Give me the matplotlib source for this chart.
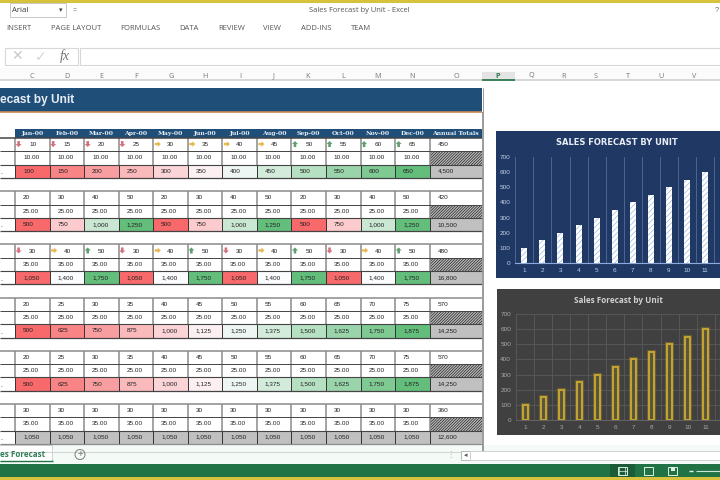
import matplotlib
matplotlib.use("Agg")
import matplotlib.pyplot as plt
from matplotlib.colors import LinearSegmentedColormap
from matplotlib.patches import Rectangle, Polygon, Circle
import numpy as np

plt.rcParams["font.family"] = ["Liberation Sans", "DejaVu Sans"]
plt.rcParams["hatch.linewidth"] = 0.5

months = ["Jan-00", "Feb-00", "Mar-00", "Apr-00", "May-00", "Jun-00",
          "Jul-00", "Aug-00", "Sep-00", "Oct-00", "Nov-00", "Dec-00"]

units_1 = [10, 15, 20, 25, 30, 35, 40, 45, 50, 55, 60, 65]
units_2 = [20, 30, 40, 50, 20, 30, 40, 50, 20, 30, 40, 50]
units_3 = [30, 40, 50, 30, 40, 50, 30, 40, 50, 30, 40, 50]
units_4 = [20, 25, 30, 35, 40, 45, 50, 55, 60, 65, 70, 75]
units_5 = [20, 25, 30, 35, 40, 45, 50, 55, 60, 65, 70, 75]
units_6 = [30, 30, 30, 30, 30, 30, 30, 30, 30, 30, 30, 30]
prices = [10, 25, 35, 25, 25, 35]
all_units = [units_1, units_2, units_3, units_4, units_5, units_6]
# arrows: d = down, r = right, u = up, "" = block without icons
arrows_1 = "ddddrrrruuuu"
arrows_3 = "drudrudrudru"
all_arrows = [arrows_1, "", arrows_3, "", "", ""]

chart_units = [1, 2, 3, 4, 5, 6, 7, 8, 9, 10, 11, 12]
chart_sales = [100, 150, 200, 250, 300, 350, 400, 450, 500, 550, 600, 650]
y_ticks = [0, 100, 200, 300, 400, 500, 600, 700]

ribbon_tabs = [("INSERT", 6), ("PAGE LAYOUT", 51), ("FORMULAS", 120), ("DATA", 179),
               ("REVIEW", 218), ("VIEW", 263), ("ADD-INS", 301), ("TEAM", 351)]
col_letters = [("C", 32), ("D", 67), ("E", 101), ("F", 136), ("G", 171), ("H", 205),
               ("I", 240), ("J", 274), ("K", 308), ("L", 343), ("M", 378), ("N", 412),
               ("O", 456), ("P", 498), ("Q", 531), ("R", 564), ("S", 596), ("T", 628),
               ("U", 661), ("V", 694)]

W, H = 720, 480
NAVY = "#1f4e79"
GREEN = "#217346"
GOLD = "#d8c23c"
scale = LinearSegmentedColormap.from_list("excel3", ["#f8696b", "#fcfcff", "#63be7b"])

fig = plt.figure(figsize=(7.2, 4.8), dpi=100, facecolor="white")
ax = fig.add_axes([0, 0, 1, 1])
ax.set_xlim(0, W)
ax.set_ylim(H, 0)
ax.axis("off")


def box(x0, y0, x1, y1, fc="none", ec="none", lw=0, z=1, **kw):
    ax.add_patch(Rectangle((x0, y0), x1 - x0, y1 - y0, fc=fc, ec=ec, lw=lw, zorder=z, **kw))


def hline(x0, x1, y, c, lw=0.8, z=3):
    ax.plot([x0, x1], [y, y], color=c, lw=lw, zorder=z, solid_capstyle="butt")


def vline(x, y0, y1, c, lw=0.8, z=3):
    ax.plot([x, x], [y0, y1], color=c, lw=lw, zorder=z, solid_capstyle="butt")


# ---- window chrome ----
box(0, 0, W, 2.5, fc=GOLD)
box(10, 3, 66, 17, ec="#c8c8c8", lw=0.7)
ax.text(12, 10.5, "Arial", fontsize=5.6, color="#333333", va="center", family="Open Sans")
ax.text(61, 10, "▾", fontsize=5, color="#444444", va="center", ha="center", family="DejaVu Sans")
ax.text(75, 11, "=", fontsize=5, color="#777777", va="center", ha="center")
ax.text(359, 11, "Sales Forecast by Unit - Excel", fontsize=5.4, color="#555555",
        va="center", ha="center", family="Open Sans")
ax.text(715, 11, "?", fontsize=5.5, color="#666666", va="center", ha="left")
for name, x in ribbon_tabs:
    ax.text(x, 28, name, fontsize=5.5, color="#555555", va="center", family="Open Sans")

# formula bar
box(5, 48, 78, 64.5, ec="#d8d8d8", lw=0.8)
box(80, 48, W + 5, 64.5, ec="#d8d8d8", lw=0.8)
ax.text(17, 56, "✕", fontsize=10, color="#c8c8c8", va="center", ha="center", family="DejaVu Sans")
ax.text(41, 57, "✓", fontsize=10, color="#d4d4d4", va="center", ha="center", family="DejaVu Sans")
ax.text(65, 56, "fx", fontsize=10, color="#777777", va="center", ha="center",
        family="Liberation Serif", style="italic")

# column headings
box(0, 68, W, 80, fc="#fbfbfb")
hline(0, W, 80.3, "#d0d0d0", lw=1.2)
box(482, 72, 515, 80, fc="#e4e4e4")
hline(482, 515, 80, GREEN, lw=1.2, z=4)
for name, x in col_letters:
    active = name == "P"
    ax.text(x, 76, name, fontsize=5.2, va="center", ha="center", family="Open Sans",
            color="#2a7a50" if active else "#777777", fontweight="bold" if active else "normal")

# banner above the table, its left part is scrolled out of the window
box(0, 88, 482, 112, fc=NAVY)
hline(0, 482, 112.4, "#c98a55", lw=1.2)
ax.text(0.5, 100, "ecast by Unit", fontsize=8.6, fontweight="bold", color="#e8eef4",
        va="center", ha="left")

# ---- table ----
col_w = 34.55
col_edges = [15 + i * col_w for i in range(13)] + [482]
row_h = 13.3
top = 138
vgray = "#8a8a8a"
dark = "#444444"

box(15, 129, 482, top, fc=NAVY)
for i, m in enumerate(months + ["Annual Totals"]):
    ax.text((col_edges[i] + col_edges[i + 1]) / 2, 133.6, m, fontsize=4.4, fontweight="bold",
            color="#e8eef4", va="center", ha="center", family="DejaVu Serif")

for b, units in enumerate(all_units):
    y0 = top + b * 4 * row_h
    y_u, y_p, y_r, y_e = y0, y0 + row_h, y0 + 2 * row_h, y0 + 3 * row_h
    price = prices[b]
    revenue = [u * price for u in units]
    lo, mid, hi = min(revenue), np.percentile(revenue, 50), max(revenue)
    arrow_set = all_arrows[b]

    for i in range(13):
        x0, x1 = col_edges[i], col_edges[i + 1]
        if i == 12:
            total_u, total_r = sum(units), sum(revenue)
            ax.text(x0 + 8, (y_u + y_p) / 2, f"{total_u}", fontsize=4.6, color="#222222", va="center")
            ax.add_patch(Rectangle((x0, y_p), x1 - x0, row_h, fc="#bbbbbb", ec="#222222",
                                   hatch="////////////", lw=0, zorder=2))
            box(x0, y_r, x1, y_e, fc="#c0c0c0", z=2)
            ax.text(x0 + 8, (y_r + y_e) / 2, f"{total_r:,}", fontsize=4.6, color="#222222", va="center")
            continue
        # revenue cell, three colour scale like the sheet
        if hi == lo:
            fc = "#c0c0c0"
        else:
            v = revenue[i]
            t = 0.5 * (v - lo) / (mid - lo) if v <= mid else 0.5 + 0.5 * (v - mid) / (hi - mid)
            fc = scale(t)
        box(x0, y_r, x1, y_e, fc=fc, z=2)
        ax.text(x0 + 8, (y_r + y_e) / 2, f"{revenue[i]:,}", fontsize=4.6, color="#222222", va="center")
        ax.text(x0 + 8, (y_p + y_r) / 2, f"{price:.2f}", fontsize=4.6, color="#222222", va="center")
        # units cell with optional icon
        cy = (y_u + y_p) / 2
        if arrow_set:
            ax.text(x0 + 14, cy, f"{units[i]}", fontsize=4.6, color="#222222", va="center")
            kind = arrow_set[i]
            ax_, ay = x0 + 3.6, cy - 0.6
            if kind == "d":
                pts = [(-1.3, -3), (1.3, -3), (1.3, 0), (3, 0), (0, 3), (-3, 0), (-1.3, 0)]
                col = "#d4717c"
            elif kind == "u":
                pts = [(-1.3, 3), (1.3, 3), (1.3, 0), (3, 0), (0, -3), (-3, 0), (-1.3, 0)]
                col = "#5f9e70"
            else:
                pts = [(-2, -1.2), (1, -1.2), (1, -2.8), (4, 0), (1, 2.8), (1, 1.2), (-2, 1.2)]
                col = "#e6b850"
            ax.add_patch(Polygon([(ax_ + px, ay + py) for px, py in pts], fc=col, ec="none", zorder=4))
        else:
            ax.text(x0 + 8, cy, f"{units[i]}", fontsize=4.6, color="#222222", va="center")

    # small tail of the row label cut off by the window
    ax.text(0, (y_r + y_e) / 2 + 1.5, ".", fontsize=5, color="#333333", va="center")

    # grid of this block
    for x in col_edges[:13]:
        vline(x, y_u, y_r, vgray, lw=1.1)
        vline(x, y_r, y_e, "#333333", lw=0.7)
    hline(0, 482, y_u, vgray if b else dark, lw=1.1)
    hline(0, 482, y_p, dark, lw=0.7)
    hline(0, 482, y_r, dark, lw=0.8)
    hline(0, 482, y_e, dark if b < 5 else vgray, lw=0.9)

vline(482.5, 112, top + 24 * row_h, vgray, lw=1.2)
vline(482.5, 88, 112, "#8a8a8a", lw=0.6)
hline(0, 487, top + 23.6 * row_h, "#d4d4d4", lw=0.8)

# ---- charts ----
def bar_axes(px_left, px_y0, px_y700, step):
    n = len(chart_units)
    a = fig.add_axes([px_left / W, 1 - px_y0 / H, n * step / W, (px_y0 - px_y700) / H])
    a.set_xlim(0.5, n + 0.5)
    a.set_ylim(0, 700)
    a.patch.set_alpha(0)
    for s in a.spines.values():
        s.set_visible(False)
    a.set_xticks(chart_units)
    a.set_yticks(y_ticks)
    return a


# blue chart
box(496, 131, W + 5, 277.5, fc="#1f3864")
ax.text(617, 142.5, "SALES FORECAST BY UNIT", fontsize=6.0, fontweight="bold", color="#e8edf5",
        va="center", ha="center", family="DejaVu Sans")
a1 = bar_axes(515.3, 263, 157, 18.07)
a1.set_axisbelow(True)
a1.set_xticks(np.arange(0.5, 13), minor=True)
a1.tick_params(which="minor", length=0)
a1.grid(True, axis="x", which="minor", color="#4d6593", lw=0.7)
a1.bar(chart_units, chart_sales, width=0.33, facecolor="white", edgecolor="#9db9dc",
       hatch="//////", lw=0, zorder=3)
a1.spines["bottom"].set_visible(True)
a1.spines["bottom"].set_color("#8ea9db")
a1.spines["bottom"].set_linewidth(0.8)
a1.tick_params(axis="both", which="major", length=0, labelsize=4.6, labelcolor="#c5d0e6", pad=3.5)

# grey chart
box(497, 289, W + 5, 435, fc="#404040")
ax.text(618, 300.5, "Sales Forecast by Unit", fontsize=5.9, fontweight="bold", color="#d0d0d0",
        va="center", ha="center", family="Open Sans")
a2 = bar_axes(516, 420, 314, 18.07)
a2.set_axisbelow(True)
a2.set_xticks(np.arange(0.5, 13), minor=True)
a2.tick_params(which="minor", length=0)
a2.grid(True, axis="x", which="minor", color="#5a5a5a", lw=0.6)
a2.grid(True, axis="y", which="major", color="#5a5a5a", lw=0.6)
a2.bar(chart_units, chart_sales, width=0.28, facecolor="none", edgecolor="#b8992c", lw=3, alpha=0.3, zorder=3)
a2.bar(chart_units, chart_sales, width=0.28, facecolor="#57533f", edgecolor="#c2a32f", lw=1.5, zorder=4)
a2.tick_params(axis="both", which="major", length=0, labelsize=4.6, labelcolor="#a8a8a8", pad=3.5)
a2.spines["bottom"].set_visible(True)
a2.spines["bottom"].set_color("#6a6a6a")
a2.spines["bottom"].set_linewidth(0.6)

# ---- sheet tabs and status bar ----
box(0, 445, W, 464, fc="#f4fbf7", z=1)
box(-5, 445, 52, 461, fc="white", ec="#c8c8c8", lw=0.6, z=2)
hline(0, 53, 461, GREEN, lw=1.0)
ax.text(0.5, 454.5, "es Forecast", fontsize=5.8, fontweight="bold", color="#2f7d56",
        va="center", ha="left", family="Open Sans", zorder=4)
ax.add_patch(Circle((80, 454.5), 5, fc="none", ec="#8a8a8a", lw=0.8, zorder=4))
ax.text(80, 454.5, "+", fontsize=7, color="#777777", va="center", ha="center", zorder=4)
ax.text(450, 454.5, "⋮", fontsize=6, color="#aaaaaa", va="center", ha="center", family="DejaVu Sans")
box(461, 451, 470, 460, fc="white", ec="#b8b8b8", lw=0.7, z=3)
box(470, 451, W + 5, 460, fc="white", ec="#d0d0d0", lw=0.7, z=3)
ax.text(465.5, 455.5, "◂", fontsize=5, color="#555555", va="center", ha="center",
        family="DejaVu Sans", zorder=4)

box(0, 464, W, 477, fc=GREEN, z=2)
box(0, 477, W, H, fc=GOLD, z=2)
box(610, 464, 635, 477, fc="#1a5c38", z=3)
for cx in (622, 648):
    box(cx - 4.5, 466.5, cx + 4.5, 474.5, ec="#dfeee6", lw=0.7, z=4)
vline(619, 466.5, 474.5, "#dfeee6", lw=0.5, z=4)
vline(625, 466.5, 474.5, "#dfeee6", lw=0.5, z=4)
hline(617.5, 626.5, 470.5, "#dfeee6", lw=0.5, z=4)
box(668, 466.5, 677, 474.5, ec="#dfeee6", lw=0.7, z=4)
box(670.5, 466.5, 674.5, 471, fc="#dfeee6", z=4)
hline(689, 693, 471, "#e8f2ec", lw=1, z=4)
hline(696, W, 471, "#cfe3d8", lw=0.8, z=4)

fig.savefig("out.png", dpi=100, facecolor="white")
